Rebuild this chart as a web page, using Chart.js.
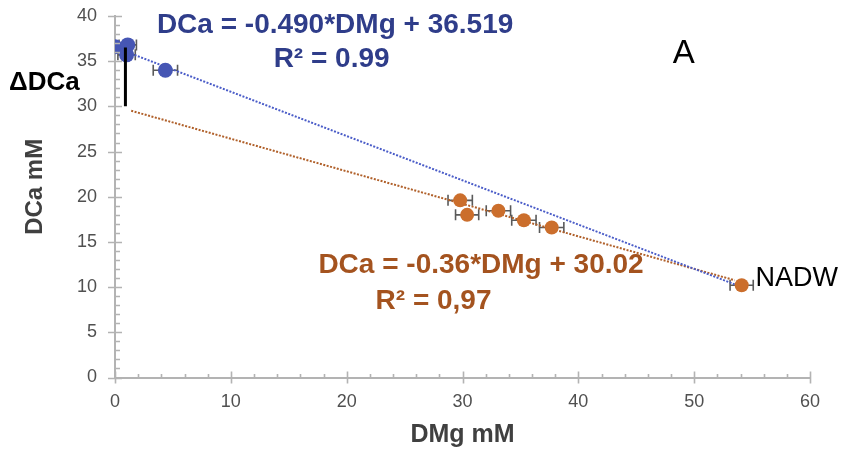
<!DOCTYPE html>
<html>
<head>
<meta charset="utf-8">
<script src="https://cdn.jsdelivr.net/npm/chart.js@4.4.1/dist/chart.umd.min.js"></script>
<style>
html, body { margin: 0; padding: 0; background: #fff; }
#wrap { width: 842px; height: 452px; }
</style>
</head>
<body>
<div id="wrap"><canvas id="dca-dmg-chart"></canvas></div>
<script>
// surface samples near the origin
var surfDMg = [0, 1.1, 1.0, 4.35];
var surfDCa = [36.6, 36.8, 35.7, 34.0];
var surfErr = [0, 0.75, 0.75, 1.05];

// deep samples, last one is NADW
var deepDMg = [29.8, 30.4, 33.1, 35.3, 37.7, 54.1];
var deepDCa = [19.6, 18.0, 18.45, 17.4, 16.6, 10.2];
var deepErr = [1.05, 1.0, 1.05, 1.05, 1.05, 1.0];

// fits as printed on the chart
var blueFit = { slope: -0.490, intercept: 36.519, from: 0, to: 53.5 };
var brownFit = { slope: -0.36, intercept: 30.02, from: 1.4, to: 53.5 };
var deltaX = 0.9;

var xTicks = [0, 10, 20, 30, 40, 50, 60];
var yTicks = [0, 5, 10, 15, 20, 25, 30, 35, 40];

var FONT = '"Liberation Sans", Arial, sans-serif';
var BLUE = '#4656b4', BLUE_TXT = '#2f3d8a', BLUE_LINE = '#4a5cc8';
var BROWN = '#cb6e2c', BROWN_TXT = '#a4531f', BROWN_LINE = '#b0602a';
var AXIS = '#b3b3b3';

Chart.defaults.font.family = FONT;

function pts(xs, ys) {
  return xs.map(function (x, i) { return { x: x, y: ys[i] }; });
}
function fitLine(f) {
  return [
    { x: f.from, y: f.slope * f.from + f.intercept },
    { x: f.to, y: f.slope * f.to + f.intercept }
  ];
}

var notes = [
  { text: 'DCa = -0.490*DMg + 36.519', x: 19.0, y: 39.0, color: BLUE_TXT, font: 'bold 28px ' + FONT, align: 'center' },
  { text: 'R\u00b2 = 0.99', x: 18.7, y: 35.2, color: BLUE_TXT, font: 'bold 28px ' + FONT, align: 'center' },
  { text: 'A', x: 49.1, y: 35.8, color: '#000', font: '33px ' + FONT, align: 'center' },
  { text: '\u0394DCa', x: -6.1, y: 32.6, color: '#000', font: 'bold 26px ' + FONT, align: 'center' },
  { text: 'DCa = -0.36*DMg + 30.02', x: 31.6, y: 12.45, color: BROWN_TXT, font: 'bold 28px ' + FONT, align: 'center' },
  { text: 'R\u00b2 = 0,97', x: 27.5, y: 8.45, color: BROWN_TXT, font: 'bold 28px ' + FONT, align: 'center' },
  { text: 'NADW', x: 55.3, y: 11.0, color: '#000', font: '27px ' + FONT, align: 'left' }
];

// horizontal error bars, drawn before the markers
var errorBars = {
  id: 'errorBars',
  beforeDatasetsDraw: function (chart) {
    var xs = chart.scales.x, ys = chart.scales.y, ctx = chart.ctx;
    ctx.save();
    ctx.strokeStyle = '#5a5a5a';
    ctx.lineWidth = 1.6;
    [[surfDMg, surfDCa, surfErr], [deepDMg, deepDCa, deepErr]].forEach(function (s) {
      s[0].forEach(function (x, i) {
        if (!s[2][i]) return;
        var py = ys.getPixelForValue(s[1][i]);
        var x1 = xs.getPixelForValue(x - s[2][i]);
        var x2 = xs.getPixelForValue(x + s[2][i]);
        ctx.beginPath();
        ctx.moveTo(x1, py); ctx.lineTo(x2, py);
        ctx.moveTo(x1, py - 5.5); ctx.lineTo(x1, py + 5.5);
        ctx.moveTo(x2, py - 5.5); ctx.lineTo(x2, py + 5.5);
        ctx.stroke();
      });
    });
    ctx.restore();
  }
};

// major ticks cross the axis, minor ticks sit inside; y title drawn here too
var axisTicks = {
  id: 'axisTicks',
  afterDraw: function (chart) {
    var xs = chart.scales.x, ys = chart.scales.y, ctx = chart.ctx;
    var x0 = xs.getPixelForValue(0), y0 = ys.getPixelForValue(0);
    ctx.save();
    ctx.strokeStyle = AXIS;
    ctx.lineWidth = 1.6;
    ctx.beginPath();
    for (var v = 0; v <= 40; v++) {
      var py = Math.round(ys.getPixelForValue(v)) + 0.5;
      if (v % 5 === 0) { ctx.moveTo(x0 - 7, py); ctx.lineTo(x0 + 7, py); }
      else { ctx.moveTo(x0, py); ctx.lineTo(x0 + 5, py); }
    }
    for (var u = 0; u <= 60; u += 2) {
      var px = Math.round(xs.getPixelForValue(u)) + 0.5;
      if (u % 10 === 0) { ctx.moveTo(px, y0 - 6); ctx.lineTo(px, y0 + 6); }
      else { ctx.moveTo(px, y0 - 3.5); ctx.lineTo(px, y0); }
    }
    ctx.stroke();

    ctx.translate(35, ys.getPixelForValue(21.1));
    ctx.rotate(-Math.PI / 2);
    ctx.font = 'bold 24px ' + FONT;
    ctx.fillStyle = '#404040';
    ctx.textAlign = 'center';
    ctx.textBaseline = 'middle';
    ctx.fillText('DCa mM', 0, 0);
    ctx.restore();
  }
};

var textNotes = {
  id: 'textNotes',
  afterDraw: function (chart) {
    var xs = chart.scales.x, ys = chart.scales.y, ctx = chart.ctx;
    ctx.save();
    ctx.textBaseline = 'middle';
    notes.forEach(function (n) {
      ctx.font = n.font;
      ctx.fillStyle = n.color;
      ctx.textAlign = n.align;
      ctx.fillText(n.text, xs.getPixelForValue(n.x), ys.getPixelForValue(n.y));
    });
    ctx.restore();
  }
};

var ctx = document.getElementById('dca-dmg-chart').getContext('2d');
new Chart(ctx, {
  type: 'scatter',
  data: {
    datasets: [
      {
        type: 'line', label: 'delta', order: 0,
        data: [{ x: deltaX, y: blueFit.intercept }, { x: deltaX, y: brownFit.intercept }],
        borderColor: '#000', borderWidth: 3, pointRadius: 0, fill: false
      },
      {
        label: 'surface', order: 1,
        data: pts(surfDMg, surfDCa),
        backgroundColor: BLUE, borderColor: BLUE, pointRadius: 7.5, borderWidth: 0
      },
      {
        label: 'deep', order: 1,
        data: pts(deepDMg, deepDCa),
        backgroundColor: BROWN, borderColor: BROWN, pointRadius: 7, borderWidth: 0
      },
      {
        type: 'line', label: 'fit surface', order: 2,
        data: fitLine(blueFit),
        borderColor: BLUE_LINE, borderWidth: 2, borderDash: [2, 1.5], pointRadius: 0, fill: false
      },
      {
        type: 'line', label: 'fit deep', order: 2,
        data: fitLine(brownFit),
        borderColor: BROWN_LINE, borderWidth: 2, borderDash: [2, 1.5], pointRadius: 0, fill: false
      }
    ]
  },
  options: {
    responsive: true,
    maintainAspectRatio: false,
    animation: false,
    layout: { padding: { left: 0, top: 16, right: 32, bottom: 0 } },
    plugins: { legend: { display: false }, tooltip: { enabled: false } },
    scales: {
      x: {
        type: 'linear', min: 0, max: 60,
        afterBuildTicks: function (s) { s.ticks = xTicks.map(function (v) { return { value: v }; }); },
        afterFit: function (s) { s.height = 74.5; },
        grid: { display: false, drawTicks: false },
        border: { display: true, color: AXIS, width: 2 },
        ticks: { padding: 14, color: '#505050', font: { size: 18 }, maxRotation: 0 },
        title: { display: true, text: 'DMg mM', color: '#404040', font: { size: 25, weight: 'bold' }, padding: { top: 0, bottom: 2 } }
      },
      y: {
        type: 'linear', min: 0, max: 40,
        afterBuildTicks: function (s) { s.ticks = yTicks.map(function (v) { return { value: v }; }); },
        afterFit: function (s) { s.width = 115; },
        grid: { display: false, drawTicks: true, tickLength: 16 },
        border: { display: true, color: AXIS, width: 2 },
        ticks: { padding: 2, color: '#505050', font: { size: 18 } }
      }
    }
  },
  plugins: [errorBars, axisTicks, textNotes]
});
</script>
</body>
</html>
